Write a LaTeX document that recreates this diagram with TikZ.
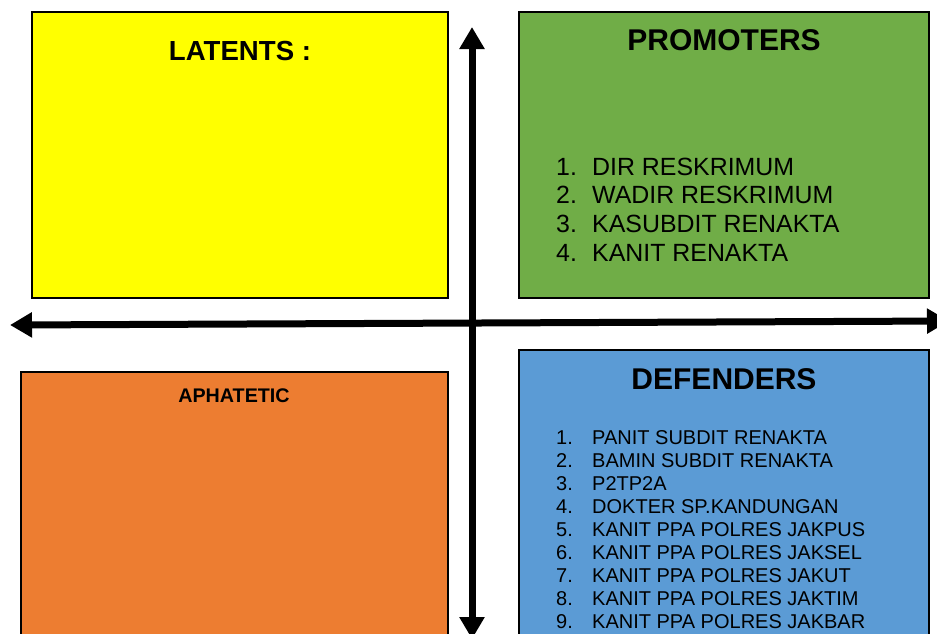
\documentclass[tikz,border=0pt]{standalone}
\usepackage{fontspec}
\setmainfont{Liberation Sans}
\usetikzlibrary{arrows.meta}
\definecolor{cyellow}{HTML}{FFFF00}
\definecolor{cgreen}{HTML}{70AD47}
\definecolor{cblue}{HTML}{5B9BD5}
\definecolor{corange}{HTML}{ED7D31}
\tikzset{
  quad/.style={draw=black, line width=1.3pt},
  axis2/.style={line width=7pt, {Triangle[length=22pt,width=24pt]}-{Triangle[length=22pt,width=24pt]}},
  ttl/.style={font=\bfseries\fontsize{30}{30}\selectfont, anchor=base, inner sep=0pt},
  litem/.style={font=\fontsize{24.9}{28}\selectfont, anchor=base west, inner sep=0pt},
  ditem/.style={font=\fontsize{20}{23}\selectfont, anchor=base west, inner sep=0pt},
}
\begin{document}
\begin{tikzpicture}[x=1pt,y=-1pt]
\useasboundingbox (0,0) rectangle (937,633);
% quadrants
\draw[quad, fill=cyellow] (32,12) rectangle (448,298);
\draw[quad, fill=cgreen] (519,12) rectangle (929,298);
\draw[quad, fill=corange] (21,372) rectangle (448,660);
\draw[quad, fill=cblue] (519,350) rectangle (929,660);
% titles
\node[ttl, font=\bfseries\fontsize{27.6}{30}\selectfont] (lat) at (240,60) {LATENTS :};
\node[ttl] (pro) at (724,50) {PROMOTERS};
\node[ttl] (def) at (724,389) {DEFENDERS};
\node[ttl, font=\bfseries\fontsize{19.7}{22}\selectfont] (aph) at (234,402) {APHATETIC};
% promoters list
\foreach \t [count=\i] in {DIR RESKRIMUM, WADIR RESKRIMUM, KASUBDIT RENAKTA, KANIT RENAKTA}{
  \node[litem] (pn\i) at (556,{175+(\i-1)*28.7}) {\i.};
  \node[litem] (pt\i) at (592,{175+(\i-1)*28.7}) {\t};
}
% defenders list
\foreach \t [count=\i] in {PANIT SUBDIT RENAKTA, BAMIN SUBDIT RENAKTA, P2TP2A, DOKTER SP.KANDUNGAN, KANIT PPA POLRES JAKPUS, KANIT PPA POLRES JAKSEL, KANIT PPA POLRES JAKUT, KANIT PPA POLRES JAKTIM, KANIT PPA POLRES JAKBAR}{
  \node[ditem] (dn\i) at (556,{444+(\i-1)*23}) {\i.};
  \node[ditem] (dt\i) at (592,{444+(\i-1)*23}) {\t};
}
% axes
\coordinate (left) at (10,325);
\coordinate (right) at (949,321);
\coordinate (top) at (472,27);
\coordinate (bottom) at (472,639);
\draw[axis2] (left) -- (right);
\draw[axis2] (top) -- (bottom);
\end{tikzpicture}
\end{document}
